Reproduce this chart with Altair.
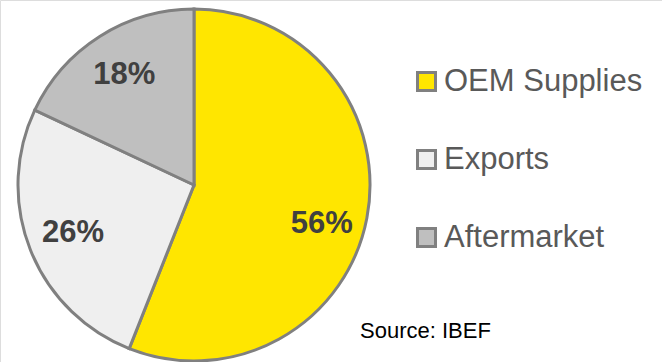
import altair as alt
import pandas as pd

categories = ["OEM Supplies", "Exports", "Aftermarket"]
values = [56, 26, 18]
labels = ["56%", "26%", "18%"]
colors = ["#FFE600", "#EFEFEF", "#BFBFBF"]

df = pd.DataFrame({
    "category": categories,
    "value": values,
    "label": labels,
    "order": [0, 1, 2],
})

FONT = "Liberation Sans"
CX, CY, R = 194, 185, 176

pie = alt.Chart(df).mark_arc(stroke="#808080", strokeWidth=3).encode(
    theta=alt.Theta("value:Q", stack=True),
    order=alt.Order("order:Q", sort="ascending"),
    x=alt.value(CX),
    y=alt.value(CY),
    radius=alt.value(R),
    color=alt.Color(
        "category:N",
        scale=alt.Scale(domain=categories, range=colors),
        sort=categories,
        legend=alt.Legend(
            title=None,
            orient="none",
            legendX=411,
            legendY=66,
            symbolType="square",
            symbolSize=324,
            symbolStrokeColor="#808080",
            symbolStrokeWidth=3,
            symbolOpacity=1,
            labelFont=FONT,
            labelFontSize=31,
            labelColor="#595959",
            labelOffset=2,
            rowPadding=46,
            labelLimit=400,
        ),
    ),
)

text_common = dict(
    radius=130, font=FONT, fontSize=31, fontWeight="bold", color="#404040",
    align="center", baseline="middle",
)

txt_oem = alt.Chart(df).mark_text(dy=15, **text_common).encode(
    theta=alt.Theta("value:Q", stack=True),
    order=alt.Order("order:Q", sort="ascending"),
    x=alt.value(CX), y=alt.value(CY),
    text=alt.condition(alt.datum.category == "OEM Supplies", "label:N", alt.value("")),
)

txt_main = alt.Chart(df).mark_text(**text_common).encode(
    theta=alt.Theta("value:Q", stack=True),
    order=alt.Order("order:Q", sort="ascending"),
    x=alt.value(CX), y=alt.value(CY),
    text=alt.condition(alt.datum.category != "OEM Supplies", "label:N", alt.value("")),
)

source = alt.Chart(pd.DataFrame({"t": ["Source: IBEF"]})).mark_text(
    font=FONT, fontSize=22, color="#000000", align="left", baseline="alphabetic"
).encode(x=alt.value(360), y=alt.value(338), text="t:N")

chart = alt.layer(pie, txt_main, txt_oem, source).properties(
    width=662, height=362, autosize=alt.AutoSizeParams(type="none"), padding=0
).configure_view(stroke=None).configure(background="white")

chart.save("out.html", embed_options={"renderer": "svg", "actions": False})
